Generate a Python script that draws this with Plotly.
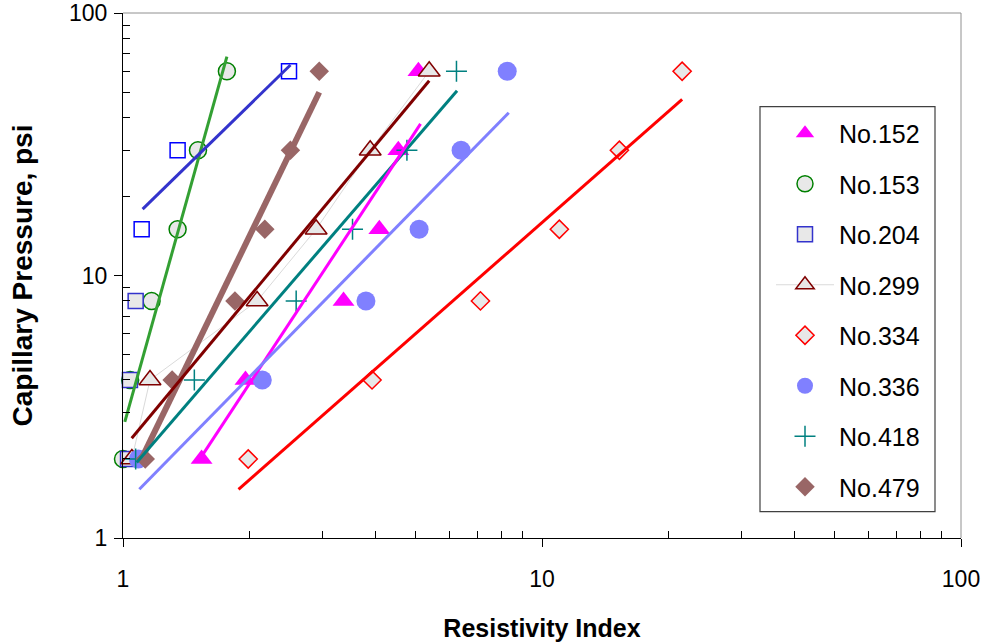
import plotly.graph_objects as go

# ---- data ----
pressure = [2, 4, 8, 15, 30, 60]  # psi

ri_152 = [1.54, 1.96, 3.36, 4.09, 4.54, 5.07]
ri_153 = [1.00, 1.04, 1.17, 1.35, 1.51, 1.77]
ri_204 = [1.028, 1.039, 1.072, 1.108, 1.35, 2.49]
ri_299 = [1.05, 1.16, 2.09, 2.89, 3.89, 5.38]
ri_334 = [1.99, 3.93, 7.13, 11.0, 15.3, 21.6]
ri_336 = [1.088, 2.15, 3.80, 5.09, 6.41, 8.26]
ri_418 = [1.072, 1.48, 2.59, 3.53, 4.76, 6.25]
ri_479 = [1.13, 1.31, 1.85, 2.18, 2.51, 2.94]

# power-law trend line end points (RI, Pc)
fit_152 = ([1.51, 5.13], [1.95, 37.8])
fit_153 = ([1.01, 1.77], [2.77, 68.2])
fit_204 = ([1.114, 2.51], [17.9, 63.4])
fit_299 = ([1.049, 5.38], [2.40, 55.2])
fit_334 = ([1.887, 21.6], [1.533, 46.9])
fit_336 = ([1.094, 8.33], [1.533, 41.7])
fit_418 = ([1.078, 6.27], [1.94, 50.6])
fit_479 = ([1.098, 2.94], [1.95, 49.9])

GRAY = "#E8E8E8"

fig = go.Figure()

def add_points(name, xs, mode="markers", **kw):
    fig.add_trace(go.Scatter(x=xs, y=pressure, mode=mode, name=name,
                             legendgroup=name, cliponaxis=False, **kw))

add_points("No.152", ri_152, marker=dict(symbol="triangle-up", size=19, color="#FF00FF"))
add_points("No.153", ri_153, marker=dict(symbol="circle", size=17, color=GRAY,
                                         line=dict(color="#008000", width=1.5)))
add_points("No.204", ri_204, marker=dict(symbol="square", size=15,
                                         color=[GRAY, GRAY, GRAY, "white", "white", "white"],
                                         line=dict(color=["#3333CC", "#3333CC", "#3333CC", "#0000FF", "#0000FF", "#0000FF"], width=1.5)))
add_points("No.299", ri_299, mode="lines+markers",
           line=dict(color="#DADADA", width=1),
           marker=dict(symbol="triangle-up", size=19, color=GRAY,
                       line=dict(color="#800000", width=1.5)))
add_points("No.334", ri_334, marker=dict(symbol="diamond", size=14, color=GRAY,
                                         line=dict(color="#FF0000", width=1.5)))
add_points("No.336", ri_336, marker=dict(symbol="circle", size=19, color="#8080FF"))
add_points("No.418", ri_418, marker=dict(symbol="cross-thin", size=15,
                                         line=dict(color="#008080", width=1.5)))
add_points("No.479", ri_479, marker=dict(symbol="diamond", size=15, color="#996666"))

def add_fit(fit, color, width=3):
    fig.add_trace(go.Scatter(x=fit[0], y=fit[1], mode="lines", showlegend=False,
                             line=dict(color=color, width=width), hoverinfo="skip"))

add_fit(fit_153, "#33A033")
add_fit(fit_204, "#3333CC")
add_fit(fit_479, "#996666", 6)
add_fit(fit_299, "#800000")
add_fit(fit_418, "#008080")
add_fit(fit_152, "#FF00FF")
add_fit(fit_336, "#8080FF")
add_fit(fit_334, "#FF0000")

minor_vals = [2, 3, 4, 5, 6, 7, 8, 9, 20, 30, 40, 50, 60, 70, 80, 90]

axis_common = dict(
    type="log", range=[0, 2], dtick=1, showgrid=False, zeroline=False,
    automargin=False,
    showline=True, linecolor="black", linewidth=1,
    ticks="outside", ticklen=8, tickcolor="black", tickwidth=1,
    tickfont=dict(family="Liberation Sans, Arial", size=23, color="black"),
    minor=dict(tickmode="array", tickvals=minor_vals, ticks="inside", ticklen=7,
               tickcolor="black", tickwidth=1, showgrid=False),
)

fig.update_layout(
    width=984, height=644,
    margin=dict(l=123, r=23, t=13, b=106),
    paper_bgcolor="white", plot_bgcolor="white",
    font=dict(family="Liberation Sans, Arial", color="black"),
    xaxis=dict(**axis_common, ticklabelstandoff=12,
               title=dict(text="<b>Resistivity Index</b>", standoff=28,
                          font=dict(size=25))),
    yaxis=dict(**axis_common, ticklabelstandoff=2,
               title=dict(text="<b>Capillary Pressure, psi</b>", standoff=28,
                          font=dict(size=28))),
    legend=dict(x=(771 - 123) / 838, y=(538 - 110.5) / 525, xanchor="left", yanchor="top",
                bgcolor="rgba(0,0,0,0)", borderwidth=0,
                font=dict(size=25), itemwidth=58, traceorder="grouped",
                tracegroupgap=15),
    shapes=[
        dict(type="rect", xref="paper", yref="paper",
             x0=(760 - 123) / 838, x1=(935 - 123) / 838,
             y0=(538 - 511.7) / 525, y1=(538 - 106.7) / 525,
             line=dict(color="#404040", width=1.2), fillcolor="rgba(0,0,0,0)", layer="below"),
        dict(type="line", xref="paper", yref="paper", x0=0, x1=1, y0=1, y1=1,
             line=dict(color="#909090", width=1)),
        dict(type="line", xref="paper", yref="paper", x0=1, x1=1, y0=0, y1=1,
             line=dict(color="#909090", width=1)),
    ],
)

fig.write_html("out.html", config={"displayModeBar": False},
               post_script="document.body.style.margin='0';document.body.style.overflow='hidden';")
